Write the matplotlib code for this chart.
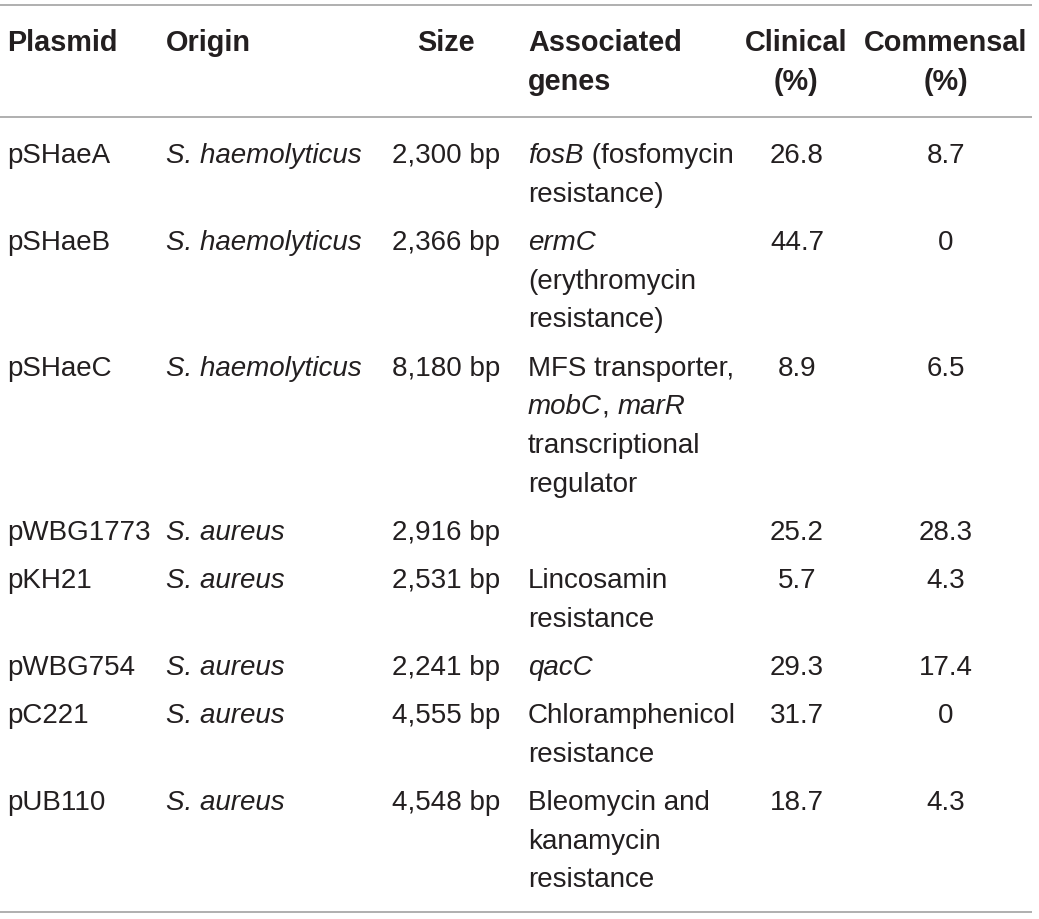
import matplotlib
matplotlib.use("Agg")
import matplotlib.pyplot as plt

plt.rcParams['font.family'] = ['Liberation Sans', 'DejaVu Sans']

# ---------------- data ----------------
headers = ["Plasmid", "Origin", "Size", ["Associated", "genes"], ["Clinical", "(%)"], ["Commensal", "(%)"]]
plasmids = ["pSHaeA", "pSHaeB", "pSHaeC", "pWBG1773", "pKH21", "pWBG754", "pC221", "pUB110"]
origins = ["S. haemolyticus", "S. haemolyticus", "S. haemolyticus", "S. aureus",
           "S. aureus", "S. aureus", "S. aureus", "S. aureus"]
sizes = ["2,300 bp", "2,366 bp", "8,180 bp", "2,916 bp", "2,531 bp", "2,241 bp", "4,555 bp", "4,548 bp"]
# each gene cell: list of lines; each line: list of (text, italic)
genes = [
    [[("fosB", True), (" (fosfomycin", False)], [("resistance)", False)]],
    [[("ermC", True)], [("(erythromycin", False)], [("resistance)", False)]],
    [[("MFS transporter,", False)], [("mobC", True), (", ", False), ("marR", True)],
     [("transcriptional", False)], [("regulator", False)]],
    [],
    [[("Lincosamin", False)], [("resistance", False)]],
    [[("qacC", True)]],
    [[("Chloramphenicol", False)], [("resistance", False)]],
    [[("Bleomycin and", False)], [("kanamycin", False)], [("resistance", False)]],
]
clinical = ["26.8", "44.7", "8.9", "25.2", "5.7", "29.3", "31.7", "18.7"]
commensal = ["8.7", "0", "6.5", "28.3", "4.3", "17.4", "0", "4.3"]

# ---------------- layout ----------------
W, H = 1039, 919
FS = 20
HFS = 20.8
COLOR = "#231F20"
LINE_COLOR = "#9a9a9a"
PITCH = 38.7
GAP = 9.5

fig = plt.figure(figsize=(W / 100, H / 100), dpi=100)
ax = fig.add_axes([0, 0, 1, 1])
ax.set_xlim(0, W)
ax.set_ylim(H, 0)
ax.axis('off')
renderer = fig.canvas.get_renderer()

x_plasmid, x_origin, x_size, x_genes, x_clin, x_comm = 7, 166, 446, 528, 797, 946


def measure(txt, italic):
    style = 'italic' if italic else 'normal'
    t1 = ax.text(0, 0, "|" + txt + "|", fontsize=FS, fontstyle=style)
    t2 = ax.text(0, 0, "||", fontsize=FS, fontstyle=style)
    w = t1.get_window_extent(renderer).width - t2.get_window_extent(renderer).width
    t1.remove()
    t2.remove()
    return w


def draw_runs(x, y, runs):
    for txt, italic in runs:
        ax.text(x, y, txt, fontsize=FS, fontstyle='italic' if italic else 'normal',
                ha='left', va='baseline', color=COLOR)
        x += measure(txt, italic)


# rules
ax.plot([0, 1032], [5, 5], color=LINE_COLOR, lw=1.1, solid_capstyle='butt')
ax.plot([0, 1032], [116.5, 116.5], color=LINE_COLOR, lw=1.1, solid_capstyle='butt')
ax.plot([0, 1032], [912, 912], color=LINE_COLOR, lw=1.1, solid_capstyle='butt')

# header
hy = 51
hkw = dict(fontsize=HFS, fontweight='bold', va='baseline', color=COLOR)
ax.text(x_plasmid, hy, headers[0], ha='left', **hkw)
ax.text(x_origin, hy, headers[1], ha='left', **hkw)
ax.text(x_size, hy, headers[2], ha='center', **hkw)
for i, line in enumerate(headers[3]):
    ax.text(x_genes, hy + i * PITCH, line, ha='left', **hkw)
for i, line in enumerate(headers[4]):
    ax.text(796, hy + i * PITCH, line, ha='center', **hkw)
for i, line in enumerate(headers[5]):
    ax.text(x_comm, hy + i * PITCH, line, ha='center', **hkw)

# body
y = 163
bkw = dict(fontsize=FS, va='baseline', color=COLOR)
for i in range(len(plasmids)):
    ax.text(x_plasmid, y, plasmids[i], ha='left', **bkw)
    ax.text(x_origin, y, origins[i], ha='left', fontstyle='italic', **bkw)
    ax.text(x_size, y, sizes[i], ha='center', **bkw)
    ax.text(x_clin, y, clinical[i], ha='center', **bkw)
    ax.text(x_comm, y, commensal[i], ha='center', **bkw)
    for j, line in enumerate(genes[i]):
        draw_runs(x_genes, y + j * PITCH, line)
    nlines = max(1, len(genes[i]))
    y += nlines * PITCH + GAP

fig.savefig("out.png", dpi=100, facecolor="white")
